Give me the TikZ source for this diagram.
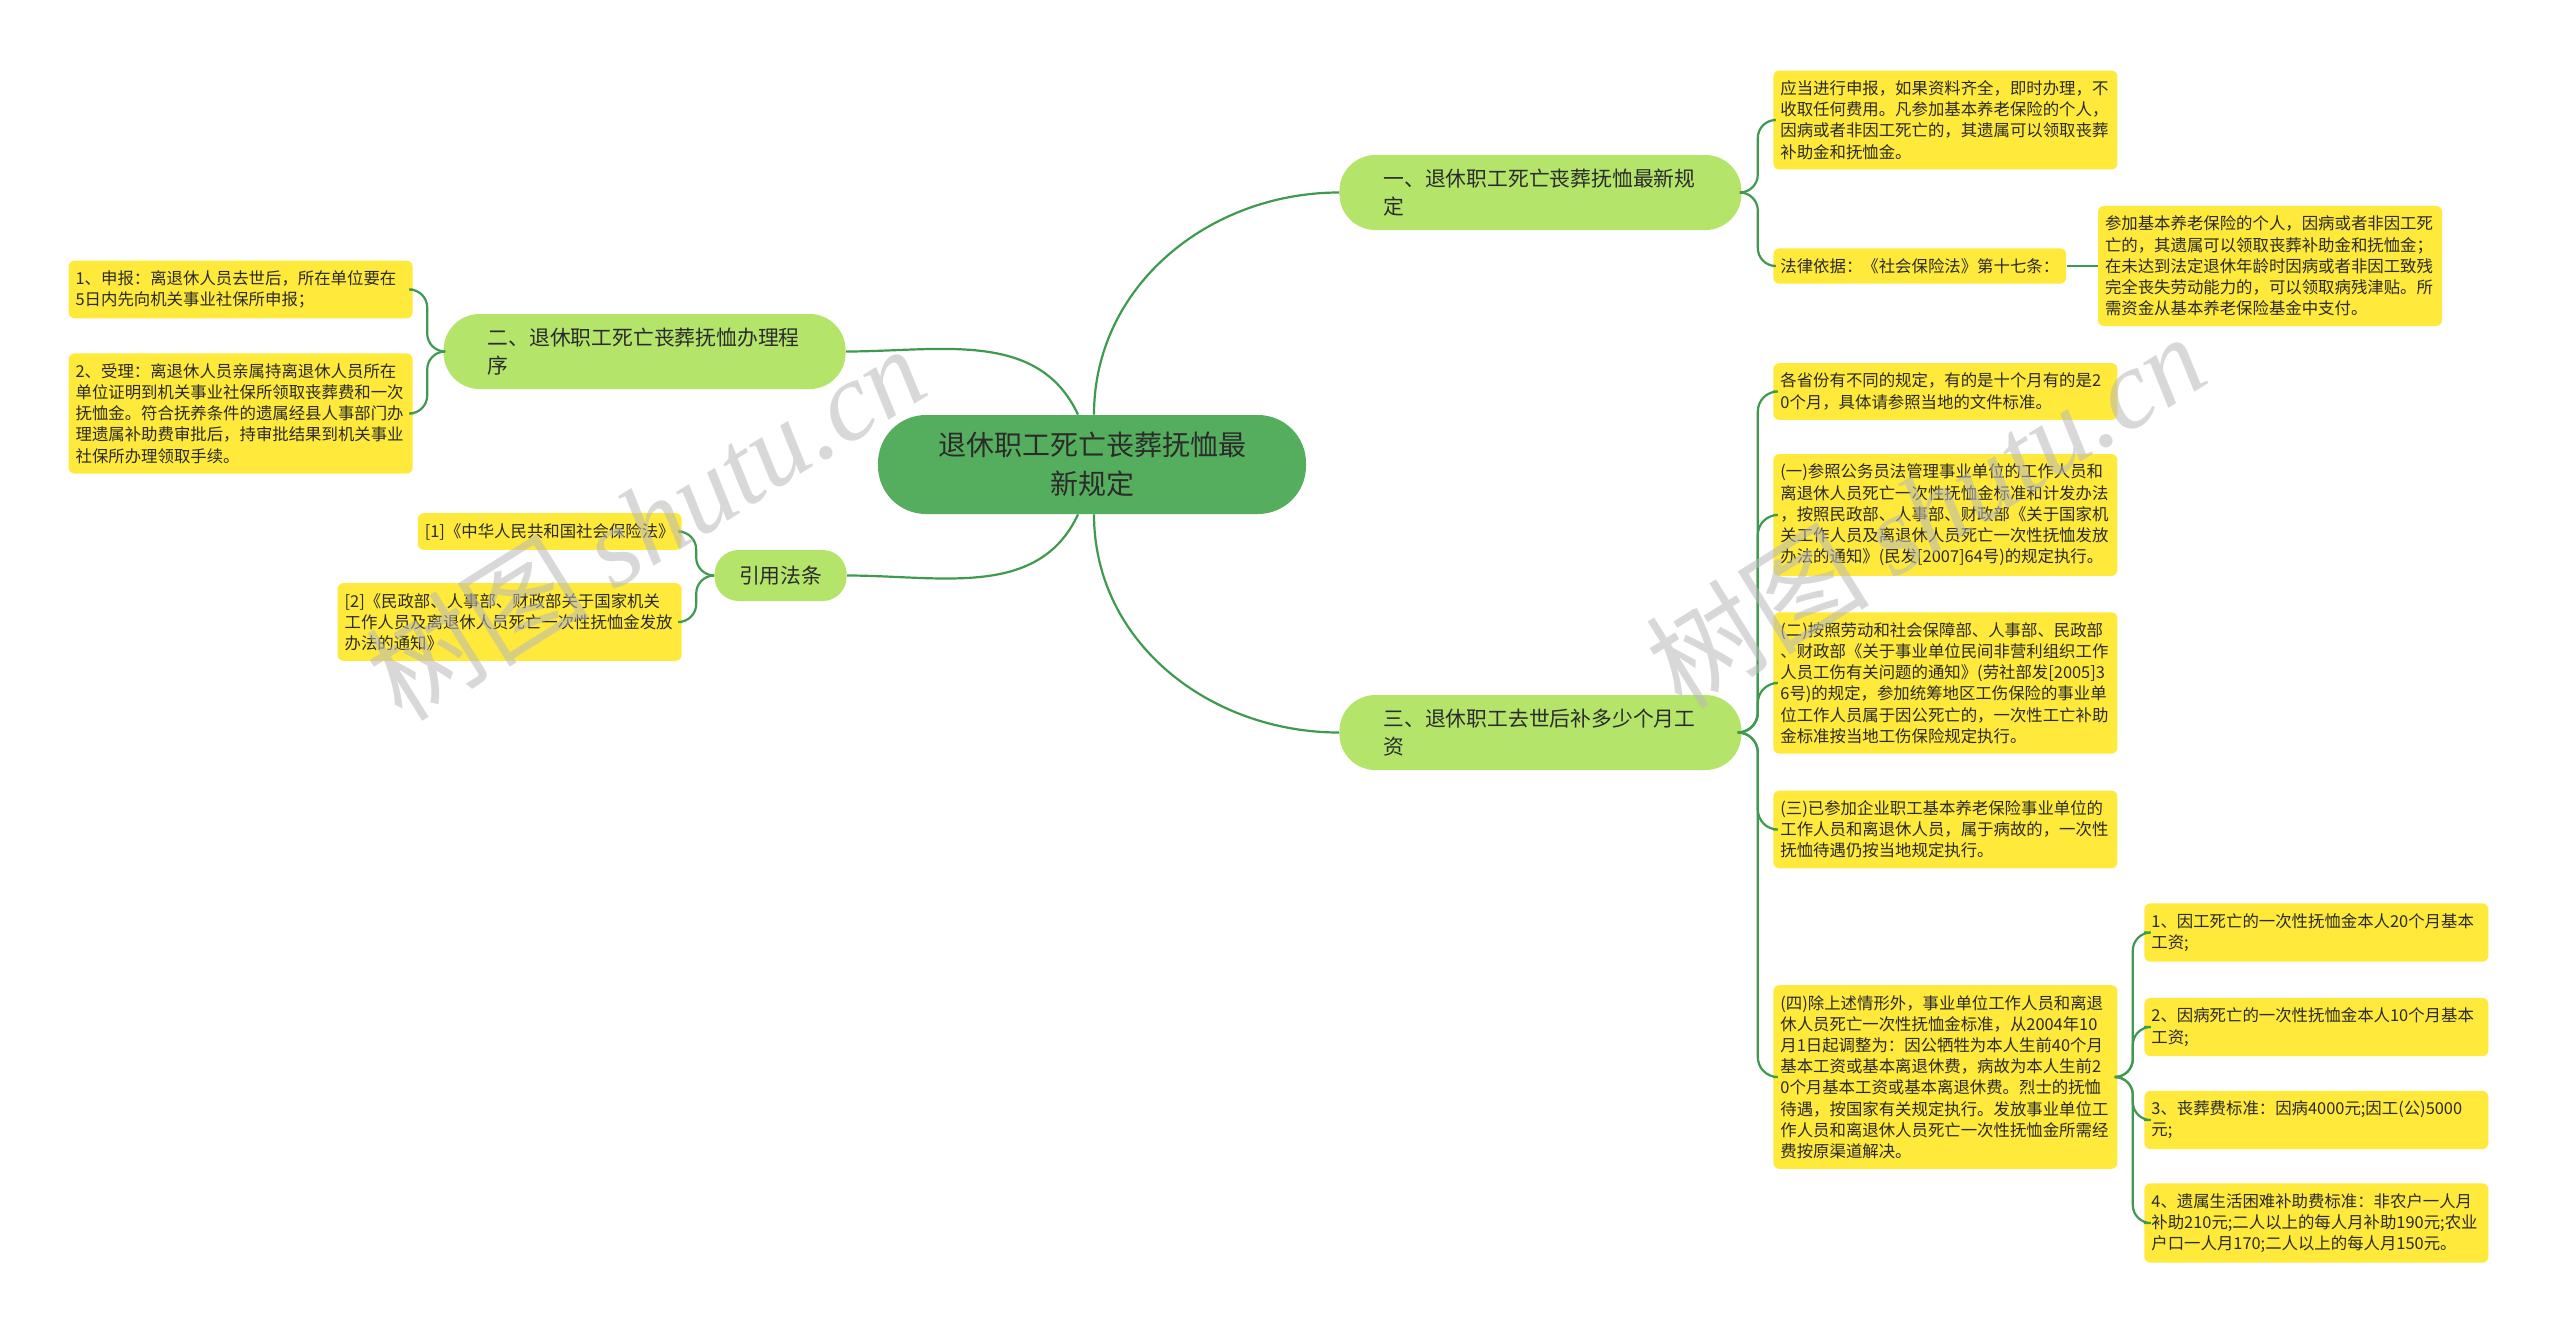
\documentclass[tikz,border=0pt]{standalone}
\usepackage{fontspec}
\setmainfont{Noto Sans CJK SC}
\newfontfamily\wmserif{Liberation Serif}
\usetikzlibrary{positioning}
\definecolor{TXroot}{HTML}{55AE5D}
\definecolor{TXbranch}{HTML}{B5E46B}
\definecolor{TXleaf}{HTML}{FFE93B}
\definecolor{TXline}{HTML}{3F9A4F}
\definecolor{TXtext}{HTML}{2B2B2B}
\tikzset{txroot/.style={fill=TXroot,rounded corners=24pt,align=center,text=TXtext,
 inner xsep=30pt,inner ysep=8pt,minimum width=214pt,minimum height=49.5pt,
 font=\fontsize{14pt}{19.6pt}\selectfont},
 txbranch/.style={fill=TXbranch,rounded corners=18pt,align=left,text=TXtext,
 text width=157pt,inner xsep=22pt,minimum height=37.5pt,
 font=\fontsize{10.4pt}{13.9pt}\selectfont},
 txleaf/.style={fill=TXleaf,rounded corners=3pt,align=left,text=TXtext,
 text width=165pt,inner xsep=3.5pt,inner ysep=5pt,
 font=\fontsize{8.2pt}{10.6pt}\selectfont},
 txlink/.style={draw=TXline,line width=1.1pt},
 txmark/.style={text=gray!55,opacity=0.55,font=\fontsize{56pt}{56pt}\selectfont}}

\begin{document}
\begin{tikzpicture}[x=0.5pt,y=0.5pt]
\fill[white] (0,0) rectangle (2560,-1334);
\useasboundingbox (0,0) rectangle (2560,-1334);
% centre and main branches
\node[txroot] (root) at (1092,-464.5) {退休职工死亡丧葬抚恤最\\新规定};
\node[txbranch,anchor=west] (rule) at (1339,-192.5) {一、退休职工死亡丧葬抚恤最新规\\定};
\node[txbranch,anchor=east] (proc) at (846,-351.5) {二、退休职工死亡丧葬抚恤办理程\\序};
\node[txbranch,text width=,inner xsep=0pt,minimum width=66pt,minimum height=25.5pt,
 rounded corners=12pt,align=center,anchor=east] (cite) at (847,-575.5) {引用法条};
\node[txbranch,anchor=west] (months) at (1339,-732.5) {三、退休职工去世后补多少个月工\\资};
% branch 1
\node[txleaf,anchor=west] (ruleA) at (1773,-120) {应当进行申报，如果资料齐全，即时办理，不\\收取任何费用。凡参加基本养老保险的个人，\\因病或者非因工死亡的，其遗属可以领取丧葬\\补助金和抚恤金。};
\node[txleaf,text width=,anchor=west] (ruleB) at (1773,-266) {法律依据：《社会保险法》第十七条：};
\node[txleaf,right=15.5pt of ruleB] (ruleC) {参加基本养老保险的个人，因病或者非因工死\\亡的，其遗属可以领取丧葬补助金和抚恤金；\\在未达到法定退休年龄时因病或者非因工致残\\完全丧失劳动能力的，可以领取病残津贴。所\\需资金从基本养老保险基金中支付。};
% branch 2
\node[txleaf,anchor=east] (procA) at (413,-289.5) {1、申报：离退休人员去世后，所在单位要在\\5日内先向机关事业社保所申报；};
\node[txleaf,anchor=east] (procB) at (413,-413.5) {2、受理：离退休人员亲属持离退休人员所在\\单位证明到机关事业社保所领取丧葬费和一次\\抚恤金。符合抚养条件的遗属经县人事部门办\\理遗属补助费审批后，持审批结果到机关事业\\社保所办理领取手续。};
% cited laws
\node[txleaf,text width=,anchor=east] (citeA) at (682,-531.5) {[1]《中华人民共和国社会保险法》};
\node[txleaf,anchor=east] (citeB) at (682,-622) {[2]《民政部、人事部、财政部关于国家机关\\工作人员及离退休人员死亡一次性抚恤金发放\\办法的通知》};
% branch 3
\node[txleaf,anchor=west] (monA) at (1773,-391.5) {各省份有不同的规定，有的是十个月有的是2\\0个月，具体请参照当地的文件标准。};
\node[txleaf,anchor=west] (monB) at (1773,-515) {(一)参照公务员法管理事业单位的工作人员和\\离退休人员死亡一次性抚恤金标准和计发办法\\，按照民政部、人事部、财政部《关于国家机\\关工作人员及离退休人员死亡一次性抚恤发放\\办法的通知》(民发[2007]64号)的规定执行。};
\node[txleaf,anchor=west] (monC) at (1773,-683) {(二)按照劳动和社会保障部、人事部、民政部\\、财政部《关于事业单位民间非营利组织工作\\人员工伤有关问题的通知》(劳社部发[2005]3\\6号)的规定，参加统筹地区工伤保险的事业单\\位工作人员属于因公死亡的，一次性工亡补助\\金标准按当地工伤保险规定执行。};
\node[txleaf,anchor=west] (monD) at (1773,-829.5) {(三)已参加企业职工基本养老保险事业单位的\\工作人员和离退休人员，属于病故的，一次性\\抚恤待遇仍按当地规定执行。};
\node[txleaf,anchor=west] (monE) at (1773,-1077) {(四)除上述情形外，事业单位工作人员和离退\\休人员死亡一次性抚恤金标准，从2004年10\\月1日起调整为：因公牺牲为本人生前40个月\\基本工资或基本离退休费，病故为本人生前2\\0个月基本工资或基本离退休费。烈士的抚恤\\待遇，按国家有关规定执行。发放事业单位工\\作人员和离退休人员死亡一次性抚恤金所需经\\费按原渠道解决。};
\node[txleaf,anchor=west] (payA) at (2144,-932.5) {1、因工死亡的一次性抚恤金本人20个月基本\\工资;};
\node[txleaf,anchor=west] (payB) at (2144,-1027) {2、因病死亡的一次性抚恤金本人10个月基本\\工资;};
\node[txleaf,anchor=west] (payC) at (2144,-1120) {3、丧葬费标准：因病4000元;因工(公)5000\\元;};
\node[txleaf,anchor=west] (payD) at (2144,-1223) {4、遗属生活困难补助费标准：非农户一人月\\补助210元;二人以上的每人月补助190元;农业\\户口一人月170;二人以上的每人月150元。};
% connectors
\draw[txlink] ([xshift=1pt]root.north) to[out=90,in=180] (rule.west);
\draw[txlink] ([xshift=1pt]root.south) to[out=-90,in=180] (months.west);
\draw[txlink] ([xshift=-7pt]root.north) to[out=115,in=0] (proc.east);
\draw[txlink] ([xshift=-7pt]root.south) to[out=-115,in=0] (cite.east);
\foreach \leaf in {ruleA,ruleB}
 \draw[txlink,rounded corners=9pt] (rule.east) -- ++(8pt,0) |- (\leaf.west);
\draw[txlink] (ruleB.east) -- (ruleC.west);
\foreach \leaf in {procA,procB}
 \draw[txlink,rounded corners=9pt] (proc.west) -- ++(-8pt,0) |- (\leaf.east);
\foreach \leaf in {citeA,citeB}
 \draw[txlink,rounded corners=9pt] (cite.west) -- ++(-9pt,0) |- (\leaf.east);
\foreach \leaf in {monA,monB,monC,monD,monE}
 \draw[txlink,rounded corners=10pt] (months.east) -- ++(8pt,0) |- (\leaf.west);
\foreach \leaf in {payA,payB,payC,payD}
 \draw[txlink,rounded corners=9pt] (monE.east) -- ++(7.5pt,0) |- (\leaf.west);
% watermarks
\node[txmark,rotate=32] (markL) at (645,-522) {树图 {\wmserif\itshape shutu.cn}};
\node[txmark,rotate=32] (markR) at (1925,-510) {树图 {\wmserif\itshape shutu.cn}};
\end{tikzpicture}
\end{document}
